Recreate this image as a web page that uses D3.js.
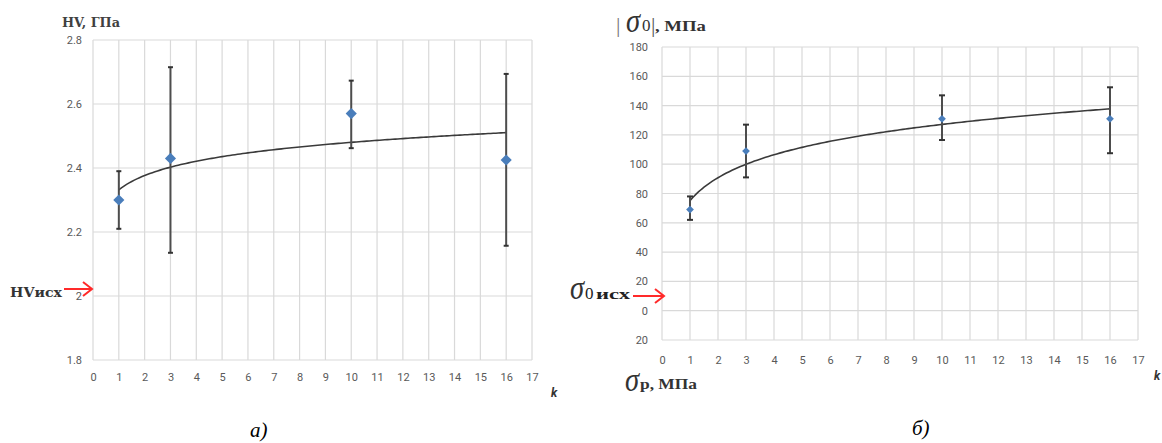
<!DOCTYPE html>
<html><head><meta charset="utf-8">
<script src="https://cdn.jsdelivr.net/npm/d3@7/dist/d3.min.js"></script>
<style>body{margin:0;background:#fff}svg{display:block}</style>
</head><body>
<svg id="c" width="1162" height="443"></svg>
<script>
// ---- data ----
const kTicks = [0,1,2,3,4,5,6,7,8,9,10,11,12,13,14,15,16,17];
const kValues = [1, 3, 10, 16];

// chart a) HV, GPa
const hvTicks = [1.8, 2.0, 2.2, 2.4, 2.6, 2.8];
const hvTickLabels = ["1.8", "2", "2.2", "2.4", "2.6", "2.8"];
const hvMean = [2.30, 2.43, 2.57, 2.425];
const hvLow  = [2.21, 2.135, 2.462, 2.157];
const hvHigh = [2.39, 2.715, 2.673, 2.694];

// chart б) |σ0|, MPa
const sTicks = [-20, 0, 20, 40, 60, 80, 100, 120, 140, 160, 180];
const sTickLabels = ["20", "0", "20", "40", "60", "80", "100", "120", "140", "160", "180"];
const sMean = [69, 109, 131, 131];
const sLow  = [62, 91, 116.5, 107.5];
const sHigh = [78, 127, 147, 152.5];

const svg = d3.select("#c");

// logarithmic least-squares trendline (Excel-style) computed from the data
function logFit(xs, ys) {
  const lx = xs.map(Math.log);
  const mx = d3.mean(lx), my = d3.mean(ys);
  let sxy = 0, sxx = 0;
  lx.forEach((v, i) => { sxy += (v - mx) * (ys[i] - my); sxx += (v - mx) * (v - mx); });
  const b = sxy / sxx, a = my - b * mx;
  return k => a + b * Math.log(k);
}

function drawChart(cfg) {
  const g = svg.append("g");
  const x = d3.scaleLinear().domain([0, 17]).range([cfg.x0, cfg.x1]);
  const y = d3.scaleLinear().domain(cfg.yDomain).range([cfg.y1, cfg.y0]);

  // grid
  g.selectAll(".vg").data(kTicks).join("line")
    .attr("x1", d => x(d)).attr("x2", d => x(d))
    .attr("y1", cfg.y0).attr("y2", cfg.y1)
    .attr("stroke", "#d9d9d9").attr("stroke-width", 1.2);
  g.selectAll(".hg").data(cfg.yTicks).join("line")
    .attr("x1", cfg.x0).attr("x2", cfg.x1)
    .attr("y1", d => y(d)).attr("y2", d => y(d))
    .attr("stroke", "#d9d9d9").attr("stroke-width", 1.2);

  // axes (labels only)
  const xa = g.append("g").attr("transform", `translate(0,${cfg.y1})`)
    .call(d3.axisBottom(x).tickValues(kTicks).tickSize(0).tickPadding(cfg.xPad).tickFormat(d3.format("d")));
  const ya = g.append("g").attr("transform", `translate(${cfg.x0},0)`)
    .call(d3.axisLeft(y).tickValues(cfg.yTicks).tickSize(0).tickPadding(cfg.yPad)
      .tickFormat((d, i) => cfg.yTickLabels[i]));
  [xa, ya].forEach(a => {
    a.select(".domain").remove();
    a.selectAll("text").attr("fill", "#595959").attr("font-family", "Roboto, sans-serif")
      .attr("font-size", cfg.fs);
  });

  // trendline
  const f = logFit(kValues, cfg.mean);
  const tk = d3.range(1, 16.001, 0.1);
  g.append("path").datum(tk)
    .attr("d", d3.line().x(d => x(d)).y(d => y(f(d))))
    .attr("fill", "none").attr("stroke", "#3a3a3a").attr("stroke-width", 1.6);

  // error bars
  const eb = g.selectAll(".eb").data(kValues).join("g");
  eb.append("line").attr("x1", d => x(d)).attr("x2", d => x(d))
    .attr("y1", (d, i) => y(cfg.low[i])).attr("y2", (d, i) => y(cfg.high[i]))
    .attr("stroke", "#4d4d4d").attr("stroke-width", 2);
  ["low", "high"].forEach(key => {
    eb.append("line").attr("x1", d => x(d) - cfg.cap).attr("x2", d => x(d) + cfg.cap)
      .attr("y1", (d, i) => y(cfg[key][i])).attr("y2", (d, i) => y(cfg[key][i]))
      .attr("stroke", "#333").attr("stroke-width", 2);
  });

  // markers
  g.selectAll(".pt").data(kValues).join("path")
    .attr("d", d3.symbol(d3.symbolSquare, cfg.msize))
    .attr("transform", (d, i) => `translate(${x(d)},${y(cfg.mean[i])}) rotate(45)`)
    .attr("fill", "#4a7ebb");

  // k label
  g.append("text").attr("x", cfg.kx).attr("y", cfg.ky).text("k")
    .attr("font-family", "Roboto, sans-serif").attr("font-weight", "bold")
    .attr("font-style", "italic").attr("font-size", 12).attr("fill", "#333");
  return { x, y };
}

drawChart({
  x0: 93, x1: 532, y0: 40, y1: 360,
  yDomain: [1.8, 2.8], yTicks: hvTicks, yTickLabels: hvTickLabels,
  mean: hvMean, low: hvLow, high: hvHigh,
  fs: 11, xPad: 13, yPad: 11, cap: 2.5, msize: 62,
  kx: 551, ky: 397
});

drawChart({
  x0: 662, x1: 1138, y0: 47, y1: 340,
  yDomain: [-20, 180], yTicks: sTicks, yTickLabels: sTickLabels,
  mean: sMean, low: sLow, high: sHigh,
  fs: 11, xPad: 16, yPad: 14, cap: 3, msize: 30,
  kx: 1154, ky: 380
});

// ---- annotations ----
const serif = "'DejaVu Serif', 'Liberation Serif', serif";
const times = "'Liberation Serif', 'Times New Roman', serif";

function txt(x, y, s, o) {
  const t = svg.append("text").attr("x", x).attr("y", y).text(s)
    .attr("font-family", o.family || times).attr("font-size", o.size)
    .attr("fill", o.fill || "#333");
  if (o.bold) t.attr("font-weight", "bold");
  if (o.italic) t.attr("font-style", "italic");
  if (o.len) t.attr("textLength", o.len).attr("lengthAdjust", "spacingAndGlyphs");
  return t;
}
function sigma(x, y) {
  svg.append("text").attr("transform", `translate(${x},${y}) scale(1.1,1.3)`)
    .text("σ").attr("font-family", times).attr("font-style", "italic")
    .attr("font-size", 26).attr("fill", "#333");
}

// left chart labels
txt(62, 27, "HV, ГПа", { family: serif, bold: true, size: 12.5, fill: "#404040", len: 58 });
txt(10, 297, "HVисх", { family: serif, bold: true, size: 13.5, fill: "#333", len: 52 });

function arrow(x1, x2, yy) {
  svg.append("line").attr("x1", x1).attr("x2", x2).attr("y1", yy).attr("y2", yy)
    .attr("stroke", "#ff2a2a").attr("stroke-width", 2);
  svg.append("path").attr("d", `M${x2 - 9},${yy - 7} L${x2},${yy} L${x2 - 9},${yy + 7}`)
    .attr("fill", "none").attr("stroke", "#ff2a2a").attr("stroke-width", 2);
}
arrow(64, 92, 289);
arrow(633, 664, 296);

// right chart top label: | σ0 |, МПа
txt(616, 32, "|", { size: 22, fill: "#777" });
sigma(626, 32);
txt(642, 31, "0", { size: 17 });
txt(651, 32, "|", { size: 22, fill: "#555" });
txt(655, 31, ", МПа", { bold: true, size: 14, len: 51 });

// σ0 исх
sigma(570, 299);
txt(585, 299, "0", { size: 17, fill: "#222" });
txt(596, 299, "исх", { bold: true, size: 14, fill: "#222", len: 34 });

// σp, МПа
sigma(625, 391);
txt(640, 389, "p, МПа", { bold: true, size: 14.5, len: 57 });

// captions
txt(250, 437, "а)", { italic: true, size: 21, fill: "#000" });
txt(912, 435, "б)", { italic: true, size: 21, fill: "#000" });
</script>
</body></html>
